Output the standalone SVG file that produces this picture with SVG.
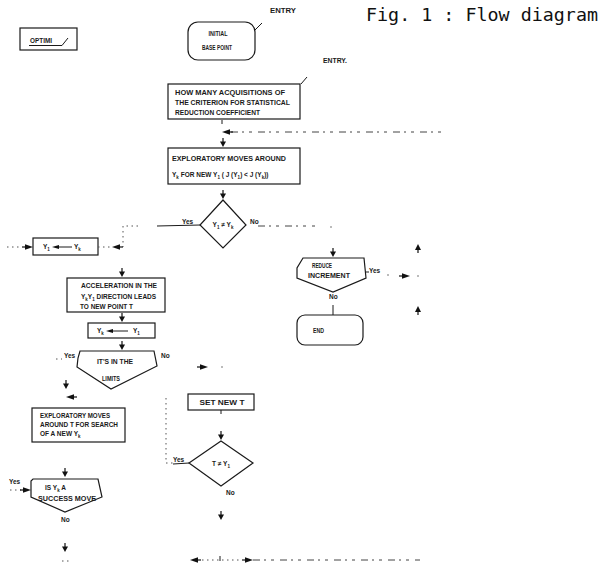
<svg xmlns="http://www.w3.org/2000/svg" width="607" height="565" viewBox="0 0 607 565">
<style>
.b{fill:none;stroke:#1a1a1a;stroke-width:1.2}
.t{font-family:"Liberation Sans",Arial,sans-serif;font-weight:bold;font-size:6.5px;fill:#1a1a1a}
.c{text-anchor:middle}
.s{font-size:4.5px}
.l{stroke:#1a1a1a;stroke-width:1;fill:none}
.d{stroke:#444;stroke-width:1;fill:none;stroke-dasharray:7 4 2 5 3 6}
.o{stroke:#555;stroke-width:1;fill:none;stroke-dasharray:1.5 3.5}
.title{font-family:"DejaVu Sans Mono",monospace;font-size:18.5px;fill:#111}
</style>
<defs>
<g id="dn"><line x1="0" y1="-9" x2="0" y2="-4" stroke="#111" stroke-width="1.2"/><path d="M-3,-5.5 L3,-5.5 L0,0 Z" fill="#111"/></g>
<g id="up"><line x1="0" y1="9" x2="0" y2="4" stroke="#111" stroke-width="1.2"/><path d="M-3,6 L3,6 L0,0 Z" fill="#111"/></g>
<g id="lt"><path d="M0,0 L8,-2.8 L8,2.8 Z" fill="#111"/><line x1="7" y1="0" x2="11" y2="0" stroke="#111" stroke-width="1.2"/></g>
<g id="rt"><path d="M0,0 L-8,-2.8 L-8,2.8 Z" fill="#111"/><line x1="-7" y1="0" x2="-11" y2="0" stroke="#111" stroke-width="1.2"/></g>
</defs>
<rect width="607" height="565" fill="#fff"/>

<text class="title" x="366" y="21" textLength="232" lengthAdjust="spacingAndGlyphs">Fig. 1 : Flow diagram</text>

<g id="optimi">
<rect class="b" x="20" y="28" width="57" height="22"/>
<text class="t" x="30" y="43" font-size="5.5" textLength="22" lengthAdjust="spacingAndGlyphs">OPTIMI</text>
<path class="l" d="M29,45.5 H62 L68,38"/>
</g>

<g id="initial">
<rect class="b" x="188" y="22" width="67" height="38" rx="10"/>
<text class="t c" x="218" y="36" textLength="19" lengthAdjust="spacingAndGlyphs">INITIAL</text>
<text class="t c" x="217" y="50" textLength="30" lengthAdjust="spacingAndGlyphs">BASE POINT</text>
</g>

<g id="entry1">
<text class="t" x="270" y="13" textLength="26" lengthAdjust="spacingAndGlyphs">ENTRY</text>
<line class="l" x1="255" y1="30" x2="262" y2="23" stroke-width="1.8"/>
</g>

<g id="entry2">
<text class="t" x="323" y="63" textLength="24" lengthAdjust="spacingAndGlyphs">ENTRY.</text>
<line class="l" x1="301" y1="84" x2="307" y2="77" stroke-width="1.8"/>
</g>

<g id="howmany">
<rect class="b" x="168" y="84" width="132" height="35"/>
<text class="t" x="175" y="95" textLength="110" lengthAdjust="spacingAndGlyphs">HOW MANY ACQUISITIONS OF</text>
<text class="t" x="175" y="105" textLength="115" lengthAdjust="spacingAndGlyphs">THE CRITERION FOR STATISTICAL</text>
<text class="t" x="175" y="115" textLength="85" lengthAdjust="spacingAndGlyphs">REDUCTION COEFFICIENT</text>
</g>

<g id="explore1">
<rect class="b" x="168" y="148" width="132" height="36"/>
<text class="t" x="172" y="161" textLength="114" lengthAdjust="spacingAndGlyphs">EXPLORATORY MOVES AROUND</text>
<text class="t" x="172" y="177">Y<tspan class="s" dy="1.5">k</tspan><tspan dy="-1.5"> FOR NEW Y</tspan><tspan class="s" dy="1.5">1</tspan><tspan dy="-1.5"> ( J (Y</tspan><tspan class="s" dy="1.5">1</tspan><tspan dy="-1.5">) &lt; J (Y</tspan><tspan class="s" dy="1.5">k</tspan><tspan dy="-1.5">))</tspan></text>
</g>

<g id="dec1">
<path class="b" d="M223,200 L246,225 L223,248 L200,225 Z"/>
<text class="t c" x="223" y="227">Y<tspan class="s" dy="1.5">1</tspan><tspan dy="-1.5"> ≠ Y</tspan><tspan class="s" dy="1.5">k</tspan></text>
</g>

<g id="y1yk">
<rect class="b" x="33" y="238" width="65" height="17"/>
<text class="t" x="43" y="249">Y<tspan class="s" dy="1.5">1</tspan></text>
<line class="l" x1="58" y1="247" x2="72" y2="247"/>
<path d="M52,247 L59,245 L59,249 Z" fill="#111"/>
<text class="t" x="74" y="249">Y<tspan class="s" dy="1.5">k</tspan></text>
</g>

<g id="accel">
<rect class="b" x="67" y="278" width="98" height="34"/>
<text class="t" x="81" y="288" textLength="76" lengthAdjust="spacingAndGlyphs">ACCELERATION IN THE</text>
<text class="t" x="81" y="299">Y<tspan class="s" dy="1.5">k</tspan><tspan dy="-1.5">Y</tspan><tspan class="s" dy="1.5">1</tspan><tspan dy="-1.5"> DIRECTION LEADS</tspan></text>
<text class="t" x="80" y="309" textLength="53" lengthAdjust="spacingAndGlyphs">TO NEW POINT T</text>
</g>

<g id="yky1">
<rect class="b" x="88" y="323" width="67" height="15"/>
<text class="t" x="97" y="333">Y<tspan class="s" dy="1.5">k</tspan></text>
<line class="l" x1="112" y1="331" x2="128" y2="331"/>
<path d="M106,331 L113,329 L113,333 Z" fill="#111"/>
<text class="t" x="133" y="333">Y<tspan class="s" dy="1.5">1</tspan></text>
</g>

<g id="limits">
<path class="b" d="M80,351 L154,351 L157,366 L111,389 L77,367 L78,358 Z"/>
<text class="t c" x="115" y="364" textLength="36" lengthAdjust="spacingAndGlyphs">IT'S IN THE</text>
<text class="t c" x="111" y="381" textLength="18" lengthAdjust="spacingAndGlyphs">LIMITS</text>
</g>

<g id="reduce">
<path class="b" d="M303,258 L364,258 L366,278 L333,292 L297,278 L297,268 Z"/>
<text class="t c" x="322" y="268" textLength="20" lengthAdjust="spacingAndGlyphs">REDUCE</text>
<text class="t c" x="329" y="278" textLength="42" lengthAdjust="spacingAndGlyphs">INCREMENT</text>
</g>

<g id="end">
<rect class="b" x="297" y="315" width="66" height="30" rx="8"/>
<text class="t" x="313" y="333" textLength="11" lengthAdjust="spacingAndGlyphs">END</text>
</g>

<g id="explore2">
<rect class="b" x="32" y="408" width="93" height="34"/>
<text class="t" x="40" y="418" textLength="70" lengthAdjust="spacingAndGlyphs">EXPLORATORY MOVES</text>
<text class="t" x="40" y="427" textLength="78" lengthAdjust="spacingAndGlyphs">AROUND T FOR SEARCH</text>
<text class="t" x="40" y="436">OF A NEW Y<tspan class="s" dy="1.5">k</tspan></text>
</g>

<g id="success">
<path class="b" d="M33,479 L98,479 L102,497 L65,512 L31,497 L31,481 Z"/>
<text class="t" x="45" y="490">IS Y<tspan class="s" dy="1.5">k</tspan><tspan dy="-1.5"> A</tspan></text>
<text class="t c" x="67" y="501" textLength="58" lengthAdjust="spacingAndGlyphs">SUCCESS MOVE</text>
</g>

<g id="setnewt">
<rect class="b" x="188" y="394" width="66" height="16"/>
<text class="t c" x="222" y="405" textLength="45" lengthAdjust="spacingAndGlyphs">SET NEW T</text>
</g>

<g id="dec2">
<path class="b" d="M221,441 L253,463 L221,486 L189,463 Z"/>
<text class="t c" x="221" y="466">T ≠ Y<tspan class="s" dy="1.5">1</tspan></text>
</g>

<g id="connectors">
<line class="d" x1="231" y1="132" x2="445" y2="132"/>
<use href="#lt" x="222" y="132"/>
<use href="#dn" x="223" y="147"/>
<line class="l" x1="222" y1="120" x2="222" y2="124"/>
<use href="#dn" x="223" y="199"/>
<line class="l" x1="157" y1="226" x2="200" y2="225"/>
<text class="t" x="182" y="224" font-size="5.5">Yes</text>
<path class="o" d="M138,226 H123 V247"/>
<use href="#lt" x="112" y="247"/>
<line class="o" x1="98" y1="247" x2="110" y2="247"/>
<use href="#rt" x="33" y="247"/>
<line class="o" x1="7" y1="247" x2="22" y2="247"/>
<text class="t" x="250" y="224" font-size="5.5">No</text>
<line class="d" x1="258" y1="226" x2="315" y2="226"/>
<circle cx="331" cy="227" r="0.7" fill="#444"/>
<use href="#dn" x="333" y="257"/>
<use href="#up" x="418" y="244"/>
<use href="#up" x="418" y="306"/>
<line class="l" x1="366" y1="272" x2="369" y2="272"/>
<text class="t" x="369" y="273" font-size="5.5">Yes</text>
<circle cx="388" cy="275" r="0.7" fill="#444"/>
<use href="#rt" x="410" y="276"/>
<circle cx="418" cy="276" r="0.7" fill="#444"/>
<text class="t" x="329" y="299" font-size="5.5">No</text>
<line class="l" x1="333" y1="305" x2="333" y2="315"/>
<use href="#dn" x="122" y="277"/>
<use href="#dn" x="122" y="322"/>
<use href="#dn" x="122" y="350"/>
<text class="t" x="64" y="358" font-size="5.5">Yes</text>
<line class="o" x1="56" y1="359" x2="62" y2="359"/>
<use href="#dn" x="66" y="389"/>
<use href="#lt" x="66" y="397"/>
<text class="t" x="161" y="358" font-size="5.5">No</text>
<use href="#rt" x="208" y="367"/>
<circle cx="222" cy="367" r="0.7" fill="#444"/>
<line class="l" x1="221" y1="410" x2="221" y2="414"/>
<use href="#dn" x="221" y="440"/>
<path class="o" d="M166,398 V463 H173"/>
<text class="t" x="173" y="462" font-size="5.5">Yes</text>
<line class="l" x1="173" y1="464" x2="189" y2="463"/>
<text class="t" x="226" y="495" font-size="5.5">No</text>
<use href="#dn" x="221" y="520"/>
<use href="#dn" x="65" y="477"/>
<text class="t" x="9" y="484" font-size="5.5">Yes</text>
<line class="o" x1="10" y1="490" x2="21" y2="490"/>
<use href="#rt" x="31" y="490"/>
<text class="t" x="61" y="522" font-size="5.5">No</text>
<use href="#dn" x="65" y="552"/>
<line class="o" x1="62" y1="561" x2="70" y2="561"/>
<use href="#lt" x="190" y="560"/>
<line class="o" x1="202" y1="560" x2="240" y2="560"/>
<line class="l" x1="220" y1="556" x2="220" y2="561"/>
<use href="#rt" x="253" y="560"/>
<line class="d" x1="253" y1="560" x2="420" y2="560"/>
</g>
</svg>
